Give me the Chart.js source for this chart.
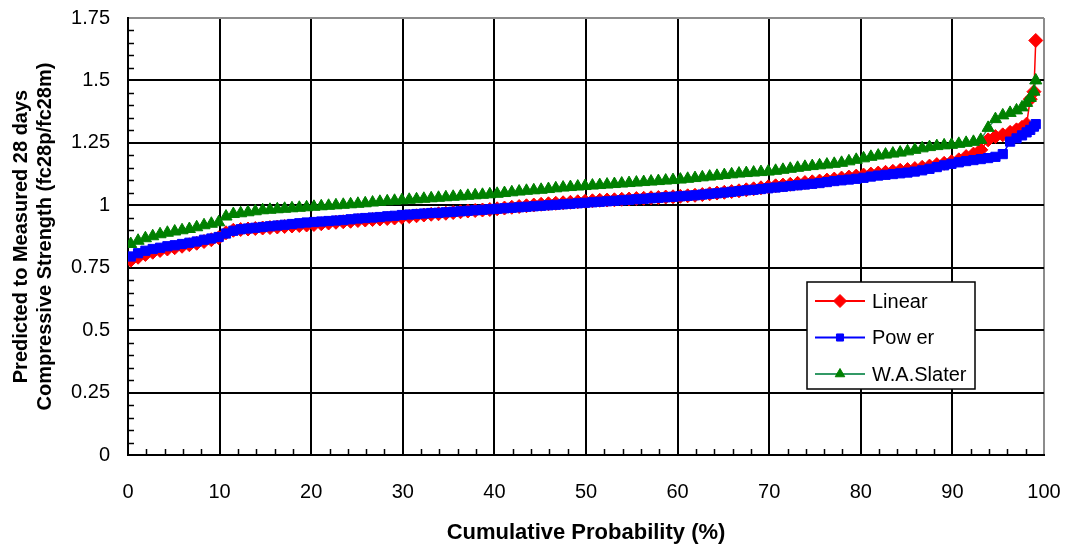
<!DOCTYPE html>
<html><head><meta charset="utf-8">
<script src="https://cdn.jsdelivr.net/npm/chart.js@4/dist/chart.umd.min.js"></script>
<style>html,body{margin:0;padding:0;background:#fff}#wrap{width:1067px;height:547px;position:relative}</style>
</head><body><div id="wrap"><canvas id="c" width="1067" height="547"></canvas></div>
<script>
// Cumulative probability (%) shared by all series
const probability = [
0.3,1.1,1.9,2.7,3.5,4.3,5.1,5.9,6.7,7.5,
8.3,9.1,9.9,10.7,11.5,12.3,13.1,13.9,14.7,15.5,
16.3,17.1,17.9,18.7,19.5,20.3,21.1,21.9,22.7,23.5,
24.3,25.1,25.9,26.7,27.5,28.3,29.1,29.9,30.7,31.5,
32.3,33.1,33.9,34.7,35.5,36.3,37.1,37.9,38.7,39.5,
40.3,41.1,41.9,42.7,43.5,44.3,45.1,45.9,46.7,47.5,
48.3,49.1,49.9,50.7,51.5,52.3,53.1,53.9,54.7,55.5,
56.3,57.1,57.9,58.7,59.5,60.3,61.1,61.9,62.7,63.5,
64.3,65.1,65.9,66.7,67.5,68.3,69.1,69.9,70.7,71.5,
72.3,73.1,73.9,74.7,75.5,76.3,77.1,77.9,78.7,79.5,
80.3,81.1,81.9,82.7,83.5,84.3,85.1,85.9,86.7,87.5,
88.3,89.1,89.9,90.7,91.5,92.3,93.1,93.9,94.7,95.5,
96.3,97.0,97.6,98.1,98.5,98.9,99.1];

const linearRatio = [
0.780,0.792,0.803,0.812,0.819,0.825,0.830,0.836,0.842,0.848,
0.855,0.862,0.870,0.890,0.900,0.903,0.905,0.907,0.909,0.911,
0.913,0.915,0.917,0.919,0.921,0.923,0.926,0.929,0.932,0.934,
0.936,0.939,0.941,0.943,0.945,0.947,0.949,0.952,0.955,0.958,
0.961,0.964,0.966,0.968,0.971,0.974,0.977,0.979,0.981,0.983,
0.986,0.989,0.992,0.995,0.998,1.001,1.004,1.006,1.008,1.010,
1.012,1.014,1.016,1.018,1.020,1.021,1.022,1.024,1.025,1.027,
1.028,1.030,1.031,1.033,1.034,1.036,1.038,1.040,1.043,1.046,
1.049,1.052,1.055,1.058,1.062,1.066,1.070,1.074,1.078,1.081,
1.084,1.088,1.091,1.094,1.097,1.101,1.105,1.109,1.113,1.117,
1.121,1.125,1.129,1.132,1.136,1.140,1.143,1.147,1.152,1.157,
1.163,1.168,1.174,1.182,1.195,1.205,1.222,1.262,1.275,1.282,
1.292,1.302,1.312,1.325,1.425,1.455,1.660];

const powerRatio = [
0.795,0.808,0.818,0.825,0.830,0.836,0.840,0.845,0.850,0.855,
0.862,0.867,0.873,0.887,0.898,0.904,0.907,0.910,0.913,0.916,
0.919,0.922,0.925,0.928,0.931,0.933,0.935,0.937,0.939,0.941,
0.944,0.947,0.949,0.951,0.953,0.956,0.958,0.961,0.963,0.965,
0.967,0.969,0.970,0.972,0.974,0.976,0.978,0.980,0.982,0.984,
0.986,0.988,0.990,0.992,0.994,0.996,0.998,1.000,1.002,1.004,
1.006,1.008,1.010,1.012,1.014,1.016,1.018,1.020,1.022,1.024,
1.026,1.028,1.030,1.032,1.034,1.036,1.038,1.040,1.043,1.046,
1.048,1.051,1.054,1.057,1.060,1.062,1.065,1.068,1.071,1.074,
1.077,1.080,1.083,1.086,1.089,1.093,1.097,1.100,1.103,1.106,
1.110,1.115,1.119,1.122,1.125,1.128,1.131,1.135,1.140,1.146,
1.153,1.160,1.166,1.172,1.177,1.181,1.185,1.189,1.194,1.205,
1.255,1.268,1.280,1.292,1.302,1.315,1.325];

const slaterRatio = [
0.845,0.858,0.868,0.876,0.884,0.890,0.895,0.900,0.905,0.912,
0.920,0.926,0.932,0.955,0.965,0.968,0.972,0.976,0.980,0.982,
0.984,0.986,0.988,0.990,0.992,0.994,0.996,0.998,1.000,1.002,
1.004,1.006,1.008,1.011,1.014,1.016,1.018,1.020,1.022,1.024,
1.026,1.028,1.030,1.032,1.034,1.036,1.038,1.040,1.042,1.044,
1.046,1.049,1.052,1.055,1.058,1.060,1.062,1.065,1.068,1.071,
1.073,1.075,1.077,1.079,1.081,1.083,1.085,1.087,1.089,1.091,
1.093,1.095,1.097,1.099,1.101,1.103,1.106,1.109,1.112,1.115,
1.118,1.121,1.124,1.127,1.129,1.131,1.133,1.135,1.138,1.142,
1.146,1.150,1.154,1.157,1.160,1.163,1.166,1.170,1.176,1.182,
1.188,1.194,1.199,1.203,1.207,1.211,1.216,1.222,1.228,1.233,
1.237,1.240,1.242,1.246,1.250,1.254,1.262,1.310,1.345,1.360,
1.370,1.380,1.392,1.410,1.430,1.455,1.500];

const seriesNames = ['Linear', 'Pow er', 'W.A.Slater'];
const xTickValues = [0,10,20,30,40,50,60,70,80,90,100];
const yTickValues = [0,0.25,0.5,0.75,1,1.25,1.5,1.75];
const yTickLabels = ['0','0.25','0.5','0.75','1','1.25','1.5','1.75'];
const xTitle = 'Cumulative Probability (%)';
const yTitle = ['Predicted to Measured 28 days', 'Compressive Strength (fc28p/fc28m)'];

const FONT = "'Liberation Sans', Arial, Helvetica, sans-serif";

function pts(ys){ return probability.map((p,i)=>({x:p, y:ys[i]})); }

const minorTicks = {
  id:'minorTicks',
  beforeDatasetsDraw(chart){
    const {ctx, scales:{x,y}} = chart;
    ctx.save(); ctx.strokeStyle='#000'; ctx.lineWidth=1.5;
    ctx.beginPath();
    for (let v=2; v<100; v+=2){ if (v%10===0) continue; const px=Math.round(x.getPixelForValue(v))+0.5; ctx.moveTo(px,y.bottom); ctx.lineTo(px,y.bottom-6); }
    for (let k=1; k<35; k++){ if (k%5===0) continue; const py=Math.round(y.getPixelForValue(k*0.05))+0.5; ctx.moveTo(x.left,py); ctx.lineTo(x.left+6,py); }
    ctx.stroke(); ctx.restore();
  }
};

function drawMarker(ctx, style, r, cx, cy){
  ctx.beginPath();
  if (style==='rectRot'){ ctx.moveTo(cx,cy-r); ctx.lineTo(cx+r,cy); ctx.lineTo(cx,cy+r); ctx.lineTo(cx-r,cy); }
  else if (style==='rect'){ const s=r*Math.SQRT1_2; ctx.rect(cx-s,cy-s,2*s,2*s); }
  else { const h=r; ctx.moveTo(cx,cy-h); ctx.lineTo(cx+h*0.866,cy+h*0.5); ctx.lineTo(cx-h*0.866,cy+h*0.5); }
  ctx.closePath(); ctx.fill(); ctx.stroke();
}

const boxLegend = {
  id:'boxLegend',
  afterDraw(chart){
    const {ctx, chartArea:ca} = chart;
    const lx = ca.right - 237, ly = ca.top + 264, lw = 168, lh = 107;
    ctx.save();
    ctx.fillStyle='#fff'; ctx.fillRect(lx,ly,lw,lh);
    ctx.strokeStyle='#000'; ctx.lineWidth=1.5; ctx.strokeRect(lx,ly,lw,lh);
    [0,1,2].forEach((di,row)=>{
      const ds = chart.data.datasets[di];
      const cy = ly + 19 + row*36.5;
      ctx.strokeStyle = ds.borderColor; ctx.lineWidth = 2;
      ctx.beginPath(); ctx.moveTo(lx+8,cy); ctx.lineTo(lx+58,cy); ctx.stroke();
      ctx.fillStyle = ds.pointBackgroundColor; ctx.strokeStyle = ds.pointBorderColor; ctx.lineWidth=1;
      drawMarker(ctx, ds.pointStyle, ds.legendRadius, lx+33, cy);
      ctx.fillStyle='#000'; ctx.font = '20px ' + FONT; ctx.textBaseline='middle'; ctx.textAlign='left';
      ctx.fillText(ds.label, lx+65, cy+1);
    });
    ctx.restore();
  }
};

new Chart(document.getElementById('c'), {
  type:'scatter',
  data:{ datasets:[
    { label:seriesNames[0], data:pts(linearRatio), showLine:true, borderColor:'#ff0000', borderWidth:1.5,
      pointStyle:'rectRot', pointRadius:7, legendRadius:6.5, pointBackgroundColor:'#ff0000', pointBorderColor:'#ff0000', pointBorderWidth:1, order:3 },
    { label:seriesNames[1], data:pts(powerRatio), showLine:true, borderColor:'#0000ff', borderWidth:1.5,
      pointStyle:'rect', pointRadius:6.5, legendRadius:5, pointBackgroundColor:'#0000ff', pointBorderColor:'#0000ff', pointBorderWidth:1, order:2 },
    { label:seriesNames[2], data:pts(slaterRatio), showLine:true, borderColor:'#339966', borderWidth:1.5,
      pointStyle:'triangle', pointRadius:7, legendRadius:5.5, pointBackgroundColor:'#008000', pointBorderColor:'#008000', pointBorderWidth:1, order:1 }
  ]},
  options:{
    responsive:false, animation:false, events:[],
    layout:{padding:{top:18,right:23,left:0,bottom:0}},
    plugins:{legend:{display:false}, tooltip:{enabled:false}},
    scales:{
      x:{ type:'linear', min:0, max:100,
        afterBuildTicks(s){ s.ticks = xTickValues.map(v=>({value:v})); },
        ticks:{ padding:25, color:'#000', font:{family:FONT,size:20}, maxRotation:0, autoSkip:false, callback:(v)=>String(v) },
        grid:{ color:(c)=> (c.tick && c.tick.value===100) ? '#8c8c8c' : '#000', lineWidth:2, drawTicks:false },
        border:{ color:'#000', width:2 },
        title:{ display:true, text:xTitle, color:'#000', font:{family:FONT,size:22,weight:'bold'}, padding:{top:0,bottom:1} },
        afterFit(s){ s.height = 92; s.paddingLeft = 0; s.paddingRight = 0; }
      },
      y:{ type:'linear', min:0, max:1.75,
        afterBuildTicks(s){ s.ticks = yTickValues.map(v=>({value:v})); },
        ticks:{ padding:18, color:'#000', font:{family:FONT,size:20}, autoSkip:false,
          callback:(v)=>{ const i=yTickValues.indexOf(v); return i>=0 ? yTickLabels[i] : ''; } },
        grid:{ color:(c)=> (c.tick && c.tick.value===1.75) ? '#8c8c8c' : '#000', lineWidth:2, drawTicks:false },
        border:{ color:'#000', width:2 },
        title:{ display:true, text:yTitle, color:'#000', font:{family:FONT,size:20,weight:'bold'}, padding:{top:9,bottom:0} },
        afterFit(s){ s.width = 128; s.paddingTop = 0; s.paddingBottom = 0; }
      }
    }
  },
  plugins:[minorTicks, boxLegend]
});
</script></body></html>
